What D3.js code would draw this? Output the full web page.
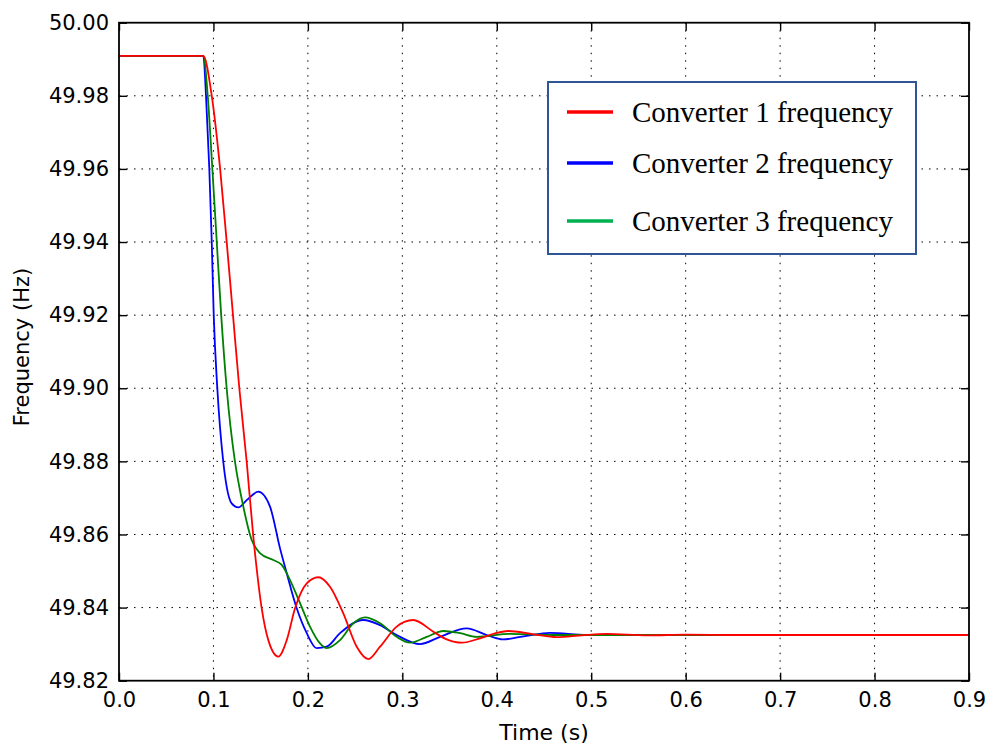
<!DOCTYPE html>
<html>
<head>
<meta charset="utf-8">
<script src="https://cdn.jsdelivr.net/npm/d3@7"></script>
<style>
  body { margin: 0; background: #fff; }
</style>
</head>
<body>
<svg id="chart" width="988" height="745"></svg>
<script>
// Axis tick values
const timeTicks = [0.0, 0.1, 0.2, 0.3, 0.4, 0.5, 0.6, 0.7, 0.8, 0.9];
const freqTicks = [49.82, 49.84, 49.86, 49.88, 49.90, 49.92, 49.94, 49.96, 49.98, 50.00];

// Legend entries
const seriesNames = ["Converter 1 frequency", "Converter 2 frequency", "Converter 3 frequency"];

// [time (s), frequency (Hz)]
const converter1 = [
  [0.0000, 49.9909], [0.0893, 49.9909], [0.0981, 49.9802], [0.1070, 49.9602],
  [0.1140, 49.9401], [0.1207, 49.9200], [0.1274, 49.9000], [0.1352, 49.8799],
  [0.1419, 49.8603], [0.1511, 49.8398], [0.1581, 49.8311], [0.1687, 49.8266],
  [0.1776, 49.8311], [0.1864, 49.8398], [0.1988, 49.8466], [0.2110, 49.8483],
  [0.2234, 49.8457], [0.2375, 49.8384], [0.2517, 49.8293], [0.2640, 49.8259],
  [0.2764, 49.8293], [0.2940, 49.8348], [0.3116, 49.8366], [0.3328, 49.8334],
  [0.3470, 49.8313], [0.3630, 49.8304], [0.3823, 49.8316], [0.4000, 49.8331],
  [0.4120, 49.8336], [0.4390, 49.8327], [0.4635, 49.8319], [0.4900, 49.8324],
  [0.5164, 49.8328], [0.5600, 49.8324], [0.6000, 49.8326], [0.6500, 49.8325],
  [0.9000, 49.8325]
];
const converter2 = [
  [0.0000, 49.9909], [0.0893, 49.9909], [0.0921, 49.9802], [0.0956, 49.9602],
  [0.0982, 49.9401], [0.1003, 49.9200], [0.1041, 49.9000], [0.1104, 49.8799],
  [0.1140, 49.8731], [0.1193, 49.8685], [0.1263, 49.8674], [0.1352, 49.8694],
  [0.1475, 49.8717], [0.1599, 49.8676], [0.1705, 49.8562], [0.1776, 49.8494],
  [0.1882, 49.8398], [0.1988, 49.8330], [0.2093, 49.8289], [0.2199, 49.8293],
  [0.2340, 49.8330], [0.2587, 49.8366], [0.2764, 49.8352], [0.2940, 49.8325],
  [0.3187, 49.8300], [0.3399, 49.8320], [0.3682, 49.8343], [0.3893, 49.8325],
  [0.4066, 49.8313], [0.4300, 49.8322], [0.4564, 49.8331], [0.4952, 49.8325],
  [0.9000, 49.8325]
];
const converter3 = [
  [0.0000, 49.9909], [0.0893, 49.9909], [0.0939, 49.9802], [0.0988, 49.9602],
  [0.1035, 49.9401], [0.1082, 49.9200], [0.1140, 49.9000], [0.1228, 49.8799],
  [0.1302, 49.8694], [0.1405, 49.8585], [0.1493, 49.8549], [0.1634, 49.8530],
  [0.1723, 49.8517], [0.1811, 49.8475], [0.1917, 49.8412], [0.2022, 49.8348],
  [0.2128, 49.8302], [0.2199, 49.8289], [0.2340, 49.8311], [0.2481, 49.8357],
  [0.2605, 49.8373], [0.2764, 49.8357], [0.2940, 49.8320], [0.3081, 49.8304],
  [0.3258, 49.8320], [0.3434, 49.8336], [0.3611, 49.8330], [0.3788, 49.8320],
  [0.4140, 49.8328], [0.4600, 49.8325], [0.9000, 49.8325]
];

const lineColors = ["#ff0000", "#0000ff", "#008000"];
const legendColors = ["#ff0000", "#0000ff", "#00b050"];

const svg = d3.select("#chart");
const plotLeft = 119, plotRight = 969, plotTop = 22.7, plotBottom = 680.7;

const x = d3.scaleLinear().domain([0, 0.9]).range([plotLeft, plotRight]);
const y = d3.scaleLinear().domain([49.82, 50.00]).range([plotBottom, plotTop]);

// Dotted grid
const grid = svg.append("g")
  .attr("stroke", "#000")
  .attr("stroke-width", 1)
  .attr("stroke-dasharray", "1.5,6");
grid.selectAll("line.v")
  .data(timeTicks.slice(1, -1))
  .join("line")
  .attr("class", "v")
  .attr("x1", d => x(d)).attr("x2", d => x(d))
  .attr("y1", plotTop).attr("y2", plotBottom);
grid.selectAll("line.h")
  .data(freqTicks.slice(1, -1))
  .join("line")
  .attr("class", "h")
  .attr("y1", d => y(d)).attr("y2", d => y(d))
  .attr("x1", plotLeft).attr("x2", plotRight);

// Frequency traces
const line = d3.line()
  .x(d => x(d[0]))
  .y(d => y(d[1]))
  .curve(d3.curveMonotoneX);

const series = [converter1, converter2, converter3];
const drawOrder = [1, 2, 0];
svg.append("g")
  .selectAll("path")
  .data(drawOrder)
  .join("path")
  .attr("d", i => line(series[i]))
  .attr("fill", "none")
  .attr("stroke", i => lineColors[i])
  .attr("stroke-width", 1.8)
  .attr("stroke-linejoin", "round");

// Axes with inward ticks on all four sides
const tickLen = 8;
function styleAxis(g) {
  g.select(".domain").remove();
  g.attr("font-family", "DejaVu Sans").attr("font-size", 21);
  g.selectAll(".tick line").attr("stroke", "#000").attr("stroke-width", 1.4);
  g.selectAll("text").attr("fill", "#000");
}

svg.append("g")
  .attr("transform", `translate(0,${plotBottom})`)
  .call(d3.axisBottom(x).tickValues(timeTicks).tickSizeInner(-tickLen).tickSizeOuter(0)
    .tickPadding(11).tickFormat(d3.format(".1f")))
  .call(styleAxis);

svg.append("g")
  .attr("transform", `translate(${plotLeft},0)`)
  .call(d3.axisLeft(y).tickValues(freqTicks).tickSizeInner(-tickLen).tickSizeOuter(0)
    .tickPadding(10).tickFormat(d3.format(".2f")))
  .call(styleAxis);

svg.append("g")
  .attr("transform", `translate(0,${plotTop})`)
  .call(d3.axisTop(x).tickValues(timeTicks).tickSizeInner(-tickLen).tickSizeOuter(0).tickFormat(""))
  .call(styleAxis);

svg.append("g")
  .attr("transform", `translate(${plotRight},0)`)
  .call(d3.axisRight(y).tickValues(freqTicks).tickSizeInner(-tickLen).tickSizeOuter(0).tickFormat(""))
  .call(styleAxis);

// Plot frame
svg.append("rect")
  .attr("x", plotLeft).attr("y", plotTop)
  .attr("width", plotRight - plotLeft).attr("height", plotBottom - plotTop)
  .attr("fill", "none")
  .attr("stroke", "#000")
  .attr("stroke-width", 1.8);

// Axis titles
svg.append("text")
  .attr("x", (plotLeft + plotRight) / 2)
  .attr("y", 739.5)
  .attr("text-anchor", "middle")
  .attr("font-family", "DejaVu Sans")
  .attr("font-size", 22)
  .attr("fill", "#000")
  .text("Time (s)");

svg.append("text")
  .attr("transform", `translate(29,347) rotate(-90)`)
  .attr("text-anchor", "middle")
  .attr("font-family", "DejaVu Sans")
  .attr("font-size", 21)
  .attr("fill", "#000")
  .text("Frequency (Hz)");

// Legend
const legend = svg.append("g");
legend.append("rect")
  .attr("x", 548).attr("y", 82)
  .attr("width", 368).attr("height", 172)
  .attr("fill", "#fff")
  .attr("stroke", "#2f5597")
  .attr("stroke-width", 2);

const rowY = [112, 163, 221];
const rows = legend.selectAll("g.row")
  .data(seriesNames)
  .join("g")
  .attr("class", "row")
  .attr("transform", (d, i) => `translate(0,${rowY[i]})`);
rows.append("line")
  .attr("x1", 567).attr("x2", 613)
  .attr("stroke", (d, i) => legendColors[i])
  .attr("stroke-width", 3.5);
rows.append("text")
  .attr("x", 632)
  .attr("y", 0)
  .attr("dy", "0.33em")
  .attr("font-family", "Liberation Serif")
  .attr("font-size", 29)
  .attr("fill", "#000")
  .text(d => d);
</script>
</body>
</html>
